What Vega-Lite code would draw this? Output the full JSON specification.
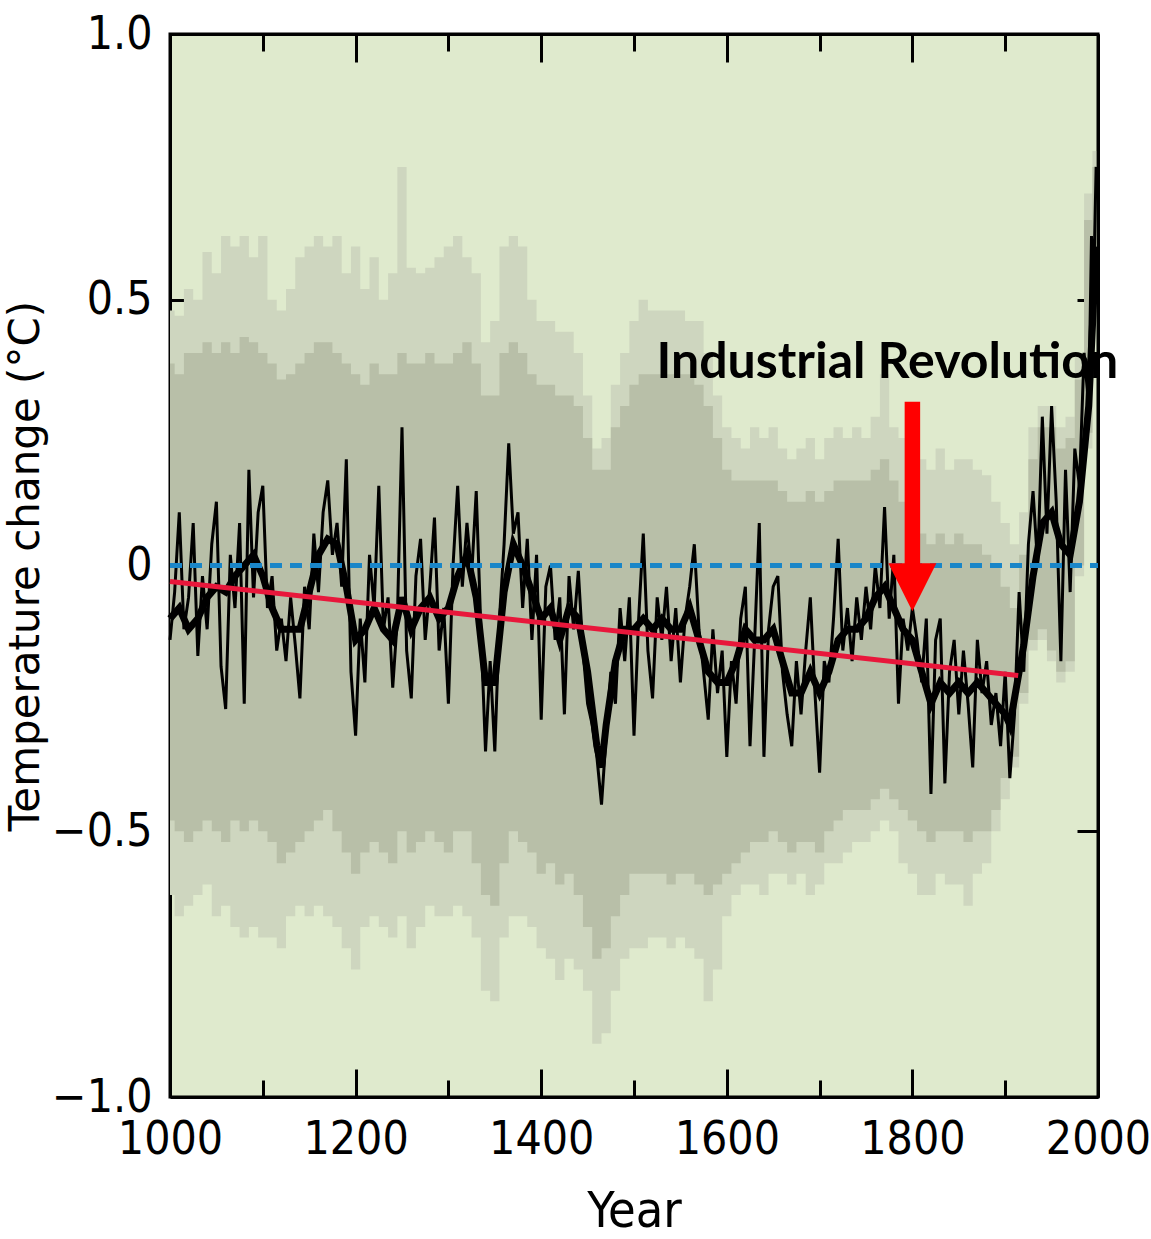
{
  "$schema": "https://vega.github.io/schema/vega-lite/v6.json",
  "width": 928,
  "height": 1063,
  "autosize": {"type": "none"},
  "padding": {"left": 170, "top": 34, "right": 53, "bottom": 142},
  "background": "white",
  "config": {
    "view": {"fill": "#dfeacd", "stroke": "black", "strokeWidth": 3},
    "axis": {"grid": false, "domainColor": "black", "domainWidth": 3, "tickColor": "black", "tickWidth": 3, "labelColor": "black", "titleColor": "black", "zindex": 1}
  },
  "datasets": {
    "band": [
      {"year":1000,"oh":0.48,"ih":0.38,"il":-0.48,"ol":-0.62},
      {"year":1010,"oh":0.47,"ih":0.36,"il":-0.50,"ol":-0.66},
      {"year":1020,"oh":0.52,"ih":0.40,"il":-0.52,"ol":-0.64},
      {"year":1030,"oh":0.50,"ih":0.40,"il":-0.50,"ol":-0.62},
      {"year":1040,"oh":0.59,"ih":0.42,"il":-0.48,"ol":-0.60},
      {"year":1050,"oh":0.55,"ih":0.40,"il":-0.50,"ol":-0.66},
      {"year":1060,"oh":0.62,"ih":0.42,"il":-0.52,"ol":-0.64},
      {"year":1070,"oh":0.60,"ih":0.40,"il":-0.48,"ol":-0.68},
      {"year":1080,"oh":0.62,"ih":0.43,"il":-0.50,"ol":-0.70},
      {"year":1090,"oh":0.58,"ih":0.42,"il":-0.48,"ol":-0.68},
      {"year":1100,"oh":0.62,"ih":0.40,"il":-0.50,"ol":-0.70},
      {"year":1110,"oh":0.50,"ih":0.38,"il":-0.52,"ol":-0.70},
      {"year":1120,"oh":0.48,"ih":0.35,"il":-0.56,"ol":-0.72},
      {"year":1130,"oh":0.52,"ih":0.36,"il":-0.54,"ol":-0.66},
      {"year":1140,"oh":0.58,"ih":0.38,"il":-0.52,"ol":-0.64},
      {"year":1150,"oh":0.60,"ih":0.40,"il":-0.50,"ol":-0.66},
      {"year":1160,"oh":0.62,"ih":0.42,"il":-0.48,"ol":-0.64},
      {"year":1170,"oh":0.60,"ih":0.42,"il":-0.46,"ol":-0.66},
      {"year":1180,"oh":0.62,"ih":0.40,"il":-0.50,"ol":-0.68},
      {"year":1190,"oh":0.55,"ih":0.38,"il":-0.54,"ol":-0.72},
      {"year":1200,"oh":0.60,"ih":0.36,"il":-0.58,"ol":-0.76},
      {"year":1210,"oh":0.52,"ih":0.34,"il":-0.54,"ol":-0.68},
      {"year":1220,"oh":0.58,"ih":0.38,"il":-0.52,"ol":-0.66},
      {"year":1230,"oh":0.50,"ih":0.36,"il":-0.54,"ol":-0.68},
      {"year":1240,"oh":0.55,"ih":0.36,"il":-0.56,"ol":-0.70},
      {"year":1250,"oh":0.75,"ih":0.40,"il":-0.50,"ol":-0.66},
      {"year":1260,"oh":0.56,"ih":0.38,"il":-0.54,"ol":-0.72},
      {"year":1270,"oh":0.55,"ih":0.38,"il":-0.52,"ol":-0.68},
      {"year":1280,"oh":0.56,"ih":0.40,"il":-0.50,"ol":-0.64},
      {"year":1290,"oh":0.58,"ih":0.38,"il":-0.52,"ol":-0.66},
      {"year":1300,"oh":0.60,"ih":0.38,"il":-0.54,"ol":-0.66},
      {"year":1310,"oh":0.62,"ih":0.40,"il":-0.50,"ol":-0.64},
      {"year":1320,"oh":0.58,"ih":0.42,"il":-0.50,"ol":-0.66},
      {"year":1330,"oh":0.55,"ih":0.38,"il":-0.56,"ol":-0.70},
      {"year":1340,"oh":0.42,"ih":0.32,"il":-0.62,"ol":-0.80},
      {"year":1350,"oh":0.46,"ih":0.32,"il":-0.64,"ol":-0.82},
      {"year":1360,"oh":0.60,"ih":0.40,"il":-0.56,"ol":-0.70},
      {"year":1370,"oh":0.62,"ih":0.42,"il":-0.50,"ol":-0.66},
      {"year":1380,"oh":0.60,"ih":0.40,"il":-0.52,"ol":-0.66},
      {"year":1390,"oh":0.50,"ih":0.36,"il":-0.54,"ol":-0.68},
      {"year":1400,"oh":0.46,"ih":0.34,"il":-0.58,"ol":-0.72},
      {"year":1410,"oh":0.46,"ih":0.34,"il":-0.56,"ol":-0.74},
      {"year":1420,"oh":0.44,"ih":0.32,"il":-0.60,"ol":-0.78},
      {"year":1430,"oh":0.44,"ih":0.32,"il":-0.58,"ol":-0.74},
      {"year":1440,"oh":0.40,"ih":0.30,"il":-0.62,"ol":-0.76},
      {"year":1450,"oh":0.32,"ih":0.24,"il":-0.68,"ol":-0.80},
      {"year":1460,"oh":0.22,"ih":0.18,"il":-0.74,"ol":-0.90},
      {"year":1470,"oh":0.24,"ih":0.18,"il":-0.72,"ol":-0.88},
      {"year":1480,"oh":0.34,"ih":0.26,"il":-0.66,"ol":-0.80},
      {"year":1490,"oh":0.40,"ih":0.30,"il":-0.62,"ol":-0.74},
      {"year":1500,"oh":0.46,"ih":0.34,"il":-0.58,"ol":-0.72},
      {"year":1510,"oh":0.50,"ih":0.36,"il":-0.58,"ol":-0.72},
      {"year":1520,"oh":0.48,"ih":0.36,"il":-0.58,"ol":-0.70},
      {"year":1530,"oh":0.48,"ih":0.36,"il":-0.58,"ol":-0.70},
      {"year":1540,"oh":0.48,"ih":0.36,"il":-0.60,"ol":-0.72},
      {"year":1550,"oh":0.48,"ih":0.36,"il":-0.58,"ol":-0.70},
      {"year":1560,"oh":0.46,"ih":0.36,"il":-0.58,"ol":-0.72},
      {"year":1570,"oh":0.46,"ih":0.34,"il":-0.60,"ol":-0.74},
      {"year":1580,"oh":0.40,"ih":0.30,"il":-0.62,"ol":-0.82},
      {"year":1590,"oh":0.32,"ih":0.24,"il":-0.60,"ol":-0.76},
      {"year":1600,"oh":0.26,"ih":0.18,"il":-0.58,"ol":-0.66},
      {"year":1610,"oh":0.24,"ih":0.16,"il":-0.56,"ol":-0.62},
      {"year":1620,"oh":0.22,"ih":0.16,"il":-0.54,"ol":-0.60},
      {"year":1630,"oh":0.26,"ih":0.16,"il":-0.52,"ol":-0.60},
      {"year":1640,"oh":0.24,"ih":0.16,"il":-0.52,"ol":-0.62},
      {"year":1650,"oh":0.26,"ih":0.16,"il":-0.50,"ol":-0.58},
      {"year":1660,"oh":0.22,"ih":0.14,"il":-0.52,"ol":-0.58},
      {"year":1670,"oh":0.20,"ih":0.12,"il":-0.54,"ol":-0.60},
      {"year":1680,"oh":0.22,"ih":0.12,"il":-0.52,"ol":-0.58},
      {"year":1690,"oh":0.24,"ih":0.14,"il":-0.52,"ol":-0.62},
      {"year":1700,"oh":0.20,"ih":0.12,"il":-0.54,"ol":-0.60},
      {"year":1710,"oh":0.24,"ih":0.14,"il":-0.50,"ol":-0.56},
      {"year":1720,"oh":0.26,"ih":0.16,"il":-0.48,"ol":-0.56},
      {"year":1730,"oh":0.24,"ih":0.16,"il":-0.46,"ol":-0.54},
      {"year":1740,"oh":0.26,"ih":0.16,"il":-0.46,"ol":-0.52},
      {"year":1750,"oh":0.24,"ih":0.16,"il":-0.46,"ol":-0.52},
      {"year":1760,"oh":0.28,"ih":0.18,"il":-0.44,"ol":-0.50},
      {"year":1770,"oh":0.36,"ih":0.20,"il":-0.42,"ol":-0.48},
      {"year":1780,"oh":0.26,"ih":0.16,"il":-0.44,"ol":-0.50},
      {"year":1790,"oh":0.24,"ih":0.12,"il":-0.46,"ol":-0.56},
      {"year":1800,"oh":0.22,"ih":0.10,"il":-0.48,"ol":-0.58},
      {"year":1810,"oh":0.20,"ih":0.06,"il":-0.50,"ol":-0.62},
      {"year":1820,"oh":0.18,"ih":0.04,"il":-0.52,"ol":-0.62},
      {"year":1830,"oh":0.22,"ih":0.06,"il":-0.50,"ol":-0.58},
      {"year":1840,"oh":0.18,"ih":0.04,"il":-0.50,"ol":-0.60},
      {"year":1850,"oh":0.20,"ih":0.06,"il":-0.50,"ol":-0.60},
      {"year":1860,"oh":0.20,"ih":0.04,"il":-0.52,"ol":-0.64},
      {"year":1870,"oh":0.18,"ih":0.04,"il":-0.50,"ol":-0.58},
      {"year":1880,"oh":0.17,"ih":0.02,"il":-0.50,"ol":-0.56},
      {"year":1890,"oh":0.12,"ih":0.00,"il":-0.46,"ol":-0.50},
      {"year":1900,"oh":0.08,"ih":-0.04,"il":-0.40,"ol":-0.44},
      {"year":1910,"oh":0.04,"ih":-0.08,"il":-0.36,"ol":-0.38},
      {"year":1920,"oh":0.10,"ih":0.02,"il":-0.24,"ol":-0.26},
      {"year":1930,"oh":0.26,"ih":0.20,"il":-0.14,"ol":-0.16},
      {"year":1940,"oh":0.30,"ih":0.26,"il":-0.12,"ol":-0.14},
      {"year":1950,"oh":0.30,"ih":0.26,"il":-0.16,"ol":-0.18},
      {"year":1960,"oh":0.26,"ih":0.22,"il":-0.20,"ol":-0.22},
      {"year":1970,"oh":0.28,"ih":0.24,"il":-0.18,"ol":-0.20},
      {"year":1980,"oh":0.40,"ih":0.35,"il":0.00,"ol":-0.02},
      {"year":1990,"oh":0.70,"ih":0.65,"il":0.25,"ol":0.22},
      {"year":1998,"oh":0.78,"ih":0.75,"il":0.50,"ol":0.48}
    ],
    "noisy": [
      {"year":1000,"t":-0.14},{"year":1005,"t":-0.05},{"year":1010,"t":0.10},{"year":1015,"t":-0.12},
      {"year":1020,"t":-0.06},{"year":1025,"t":0.08},{"year":1030,"t":-0.17},{"year":1035,"t":-0.02},
      {"year":1040,"t":-0.12},{"year":1045,"t":0.04},{"year":1050,"t":0.12},{"year":1055,"t":-0.19},
      {"year":1060,"t":-0.27},{"year":1065,"t":0.02},{"year":1070,"t":-0.08},{"year":1075,"t":0.08},
      {"year":1080,"t":-0.26},{"year":1085,"t":0.18},{"year":1090,"t":-0.06},{"year":1095,"t":0.10},
      {"year":1100,"t":0.15},{"year":1105,"t":-0.08},{"year":1110,"t":-0.02},{"year":1115,"t":-0.16},
      {"year":1120,"t":-0.10},{"year":1125,"t":-0.18},{"year":1130,"t":-0.06},{"year":1135,"t":-0.15},
      {"year":1140,"t":-0.25},{"year":1145,"t":-0.04},{"year":1150,"t":-0.12},{"year":1155,"t":0.06},
      {"year":1160,"t":-0.05},{"year":1165,"t":0.10},{"year":1170,"t":0.16},{"year":1175,"t":0.02},
      {"year":1180,"t":0.08},{"year":1185,"t":-0.04},{"year":1190,"t":0.20},{"year":1195,"t":-0.20},
      {"year":1200,"t":-0.32},{"year":1205,"t":-0.10},{"year":1210,"t":-0.22},{"year":1215,"t":0.02},
      {"year":1220,"t":-0.08},{"year":1225,"t":0.15},{"year":1230,"t":-0.12},{"year":1235,"t":-0.06},
      {"year":1240,"t":-0.23},{"year":1245,"t":-0.10},{"year":1250,"t":0.26},{"year":1255,"t":-0.16},
      {"year":1260,"t":-0.25},{"year":1265,"t":-0.02},{"year":1270,"t":0.05},{"year":1275,"t":-0.14},
      {"year":1280,"t":-0.04},{"year":1285,"t":0.09},{"year":1290,"t":-0.16},{"year":1295,"t":-0.08},
      {"year":1300,"t":-0.26},{"year":1305,"t":0.00},{"year":1310,"t":0.15},{"year":1315,"t":-0.04},
      {"year":1320,"t":0.08},{"year":1325,"t":-0.02},{"year":1330,"t":0.14},{"year":1335,"t":-0.12},
      {"year":1340,"t":-0.35},{"year":1345,"t":-0.18},{"year":1350,"t":-0.35},{"year":1355,"t":-0.10},
      {"year":1360,"t":0.04},{"year":1365,"t":0.23},{"year":1370,"t":0.06},{"year":1375,"t":0.10},
      {"year":1380,"t":-0.08},{"year":1385,"t":0.05},{"year":1390,"t":-0.14},{"year":1395,"t":0.02},
      {"year":1400,"t":-0.29},{"year":1405,"t":-0.04},{"year":1410,"t":0.00},{"year":1415,"t":-0.14},
      {"year":1420,"t":-0.06},{"year":1425,"t":-0.28},{"year":1430,"t":-0.02},{"year":1435,"t":-0.12},
      {"year":1440,"t":-0.01},{"year":1445,"t":-0.16},{"year":1450,"t":-0.26},{"year":1455,"t":-0.30},
      {"year":1460,"t":-0.36},{"year":1465,"t":-0.45},{"year":1470,"t":-0.32},{"year":1475,"t":-0.20},
      {"year":1480,"t":-0.26},{"year":1485,"t":-0.08},{"year":1490,"t":-0.18},{"year":1495,"t":-0.06},
      {"year":1500,"t":-0.32},{"year":1505,"t":-0.10},{"year":1510,"t":0.06},{"year":1515,"t":-0.16},
      {"year":1520,"t":-0.25},{"year":1525,"t":-0.06},{"year":1530,"t":-0.14},{"year":1535,"t":-0.04},
      {"year":1540,"t":-0.18},{"year":1545,"t":-0.08},{"year":1550,"t":-0.22},{"year":1555,"t":-0.10},
      {"year":1560,"t":-0.04},{"year":1565,"t":0.04},{"year":1570,"t":-0.12},{"year":1575,"t":-0.20},
      {"year":1580,"t":-0.29},{"year":1585,"t":-0.12},{"year":1590,"t":-0.24},{"year":1595,"t":-0.16},
      {"year":1600,"t":-0.36},{"year":1605,"t":-0.18},{"year":1610,"t":-0.26},{"year":1615,"t":-0.10},
      {"year":1620,"t":-0.04},{"year":1625,"t":-0.34},{"year":1630,"t":-0.14},{"year":1635,"t":0.08},
      {"year":1640,"t":-0.36},{"year":1645,"t":-0.12},{"year":1650,"t":-0.04},{"year":1655,"t":-0.02},
      {"year":1660,"t":-0.20},{"year":1665,"t":-0.28},{"year":1670,"t":-0.34},{"year":1675,"t":-0.18},
      {"year":1680,"t":-0.28},{"year":1685,"t":-0.16},{"year":1690,"t":-0.06},{"year":1695,"t":-0.24},
      {"year":1700,"t":-0.39},{"year":1705,"t":-0.18},{"year":1710,"t":-0.22},{"year":1715,"t":-0.10},
      {"year":1720,"t":0.05},{"year":1725,"t":-0.16},{"year":1730,"t":-0.08},{"year":1735,"t":-0.18},
      {"year":1740,"t":-0.06},{"year":1745,"t":-0.14},{"year":1750,"t":-0.04},{"year":1755,"t":-0.12},
      {"year":1760,"t":0.00},{"year":1765,"t":-0.08},{"year":1770,"t":0.11},{"year":1775,"t":-0.10},
      {"year":1780,"t":0.02},{"year":1785,"t":-0.26},{"year":1790,"t":-0.10},{"year":1795,"t":-0.16},
      {"year":1800,"t":-0.08},{"year":1805,"t":-0.14},{"year":1810,"t":-0.22},{"year":1815,"t":-0.10},
      {"year":1820,"t":-0.43},{"year":1825,"t":-0.14},{"year":1830,"t":-0.10},{"year":1835,"t":-0.41},
      {"year":1840,"t":-0.20},{"year":1845,"t":-0.14},{"year":1850,"t":-0.28},{"year":1855,"t":-0.16},
      {"year":1860,"t":-0.26},{"year":1865,"t":-0.38},{"year":1870,"t":-0.14},{"year":1875,"t":-0.24},
      {"year":1880,"t":-0.18},{"year":1885,"t":-0.30},{"year":1890,"t":-0.24},{"year":1895,"t":-0.34},
      {"year":1900,"t":-0.20},{"year":1905,"t":-0.40},{"year":1910,"t":-0.28},{"year":1915,"t":-0.05},
      {"year":1920,"t":-0.20},{"year":1925,"t":0.04},{"year":1930,"t":0.14},{"year":1935,"t":0.00},
      {"year":1940,"t":0.28},{"year":1945,"t":0.06},{"year":1950,"t":0.30},{"year":1955,"t":0.12},
      {"year":1960,"t":-0.18},{"year":1965,"t":0.18},{"year":1970,"t":-0.05},{"year":1975,"t":0.22},
      {"year":1980,"t":0.15},{"year":1985,"t":0.40},{"year":1990,"t":0.30},{"year":1993,"t":0.62},
      {"year":1995,"t":0.50},{"year":1998,"t":0.75}
    ],
    "smooth": [
      {"year":1000,"t":-0.10},{"year":1010,"t":-0.08},{"year":1020,"t":-0.12},{"year":1030,"t":-0.10},
      {"year":1040,"t":-0.06},{"year":1050,"t":-0.04},{"year":1060,"t":-0.05},{"year":1070,"t":-0.02},
      {"year":1080,"t":0.00},{"year":1090,"t":0.02},{"year":1100,"t":-0.02},{"year":1110,"t":-0.08},
      {"year":1120,"t":-0.12},{"year":1130,"t":-0.12},{"year":1140,"t":-0.12},{"year":1150,"t":-0.05},
      {"year":1160,"t":0.02},{"year":1170,"t":0.05},{"year":1180,"t":0.04},{"year":1190,"t":-0.04},
      {"year":1200,"t":-0.14},{"year":1210,"t":-0.12},{"year":1220,"t":-0.08},{"year":1230,"t":-0.12},
      {"year":1240,"t":-0.14},{"year":1250,"t":-0.06},{"year":1260,"t":-0.12},{"year":1270,"t":-0.08},
      {"year":1280,"t":-0.06},{"year":1290,"t":-0.10},{"year":1300,"t":-0.08},{"year":1310,"t":-0.02},
      {"year":1320,"t":0.02},{"year":1330,"t":-0.06},{"year":1340,"t":-0.22},{"year":1350,"t":-0.22},
      {"year":1360,"t":-0.05},{"year":1370,"t":0.04},{"year":1380,"t":0.00},{"year":1390,"t":-0.05},
      {"year":1400,"t":-0.10},{"year":1410,"t":-0.08},{"year":1420,"t":-0.14},{"year":1430,"t":-0.08},
      {"year":1440,"t":-0.10},{"year":1450,"t":-0.20},{"year":1460,"t":-0.34},{"year":1465,"t":-0.38},
      {"year":1470,"t":-0.30},{"year":1480,"t":-0.18},{"year":1490,"t":-0.12},{"year":1500,"t":-0.12},
      {"year":1510,"t":-0.10},{"year":1520,"t":-0.12},{"year":1530,"t":-0.10},{"year":1540,"t":-0.12},
      {"year":1550,"t":-0.12},{"year":1560,"t":-0.08},{"year":1570,"t":-0.14},{"year":1580,"t":-0.20},
      {"year":1590,"t":-0.22},{"year":1600,"t":-0.22},{"year":1610,"t":-0.18},{"year":1620,"t":-0.12},
      {"year":1630,"t":-0.14},{"year":1640,"t":-0.14},{"year":1650,"t":-0.12},{"year":1660,"t":-0.18},
      {"year":1670,"t":-0.24},{"year":1680,"t":-0.24},{"year":1690,"t":-0.20},{"year":1700,"t":-0.24},
      {"year":1710,"t":-0.20},{"year":1720,"t":-0.14},{"year":1730,"t":-0.12},{"year":1740,"t":-0.12},
      {"year":1750,"t":-0.10},{"year":1760,"t":-0.06},{"year":1770,"t":-0.04},{"year":1780,"t":-0.08},
      {"year":1790,"t":-0.12},{"year":1800,"t":-0.14},{"year":1810,"t":-0.20},{"year":1820,"t":-0.26},
      {"year":1830,"t":-0.22},{"year":1840,"t":-0.24},{"year":1850,"t":-0.22},{"year":1860,"t":-0.24},
      {"year":1870,"t":-0.22},{"year":1880,"t":-0.24},{"year":1890,"t":-0.26},{"year":1900,"t":-0.28},
      {"year":1905,"t":-0.30},{"year":1910,"t":-0.25},{"year":1920,"t":-0.15},{"year":1930,"t":-0.02},
      {"year":1940,"t":0.08},{"year":1950,"t":0.10},{"year":1960,"t":0.04},{"year":1970,"t":0.02},
      {"year":1980,"t":0.12},{"year":1990,"t":0.30},{"year":1998,"t":0.60}
    ],
    "trend": [{"year":1000,"t":-0.03},{"year":1914,"t":-0.207}],
    "zero": [{"year":1000,"t":0},{"year":2000,"t":0}],
    "arrow": [{"year":1800,"top":0.308,"base":0.0,"head":-0.041}],
    "note": [{"year":1773,"t":0.353,"text":"Industrial Revolution"}]
  },
  "layer": [
    {
      "data": {"name": "band"},
      "mark": {"type": "area", "interpolate": "step", "color": "#ced6bf"},
      "encoding": {
        "x": {"field": "year", "type": "quantitative", "scale": {"domain": [1000, 2000], "nice": false, "zero": false},
          "axis": {"orient": "bottom", "values": [1000,1200,1400,1600,1800,2000], "format": "d", "ticks": false, "domain": true,
            "labelFont": "DejaVu Sans Condensed, Liberation Sans, sans-serif", "labelFontSize": 46, "labelPadding": 20, "labelFlush": false, "labelOverlap": false,
            "title": "Year", "titleFont": "DejaVu Sans Condensed, Liberation Sans, sans-serif", "titleFontSize": 50, "titleFontWeight": "normal", "titlePadding": 24}},
        "y": {"field": "oh", "type": "quantitative", "scale": {"domain": [-1, 1], "nice": false, "zero": false},
          "axis": {"orient": "left", "values": [-1,-0.5,0,0.5,1], "ticks": false, "domain": true, "format": ".1f",
            "labelExpr": "datum.value === 0 ? '0' : datum.label",
            "labelFont": "DejaVu Sans Condensed, Liberation Sans, sans-serif", "labelFontSize": 46, "labelPadding": 18, "labelFlush": false, "labelOverlap": false,
            "title": "Temperature change (°C)", "titleFont": "DejaVu Sans, sans-serif", "titleFontSize": 42, "titleFontWeight": "normal", "titlePadding": 4}},
        "y2": {"field": "ol"}
      }
    },
    {
      "data": {"name": "band"},
      "mark": {"type": "area", "interpolate": "step", "color": "#b8bfa8"},
      "encoding": {
        "x": {"field": "year", "type": "quantitative",
          "axis": {"orient": "bottom", "values": [1000,1200,1400,1600,1800,2000], "tickSize": -28, "labels": false, "domain": false, "title": null}},
        "y": {"field": "ih", "type": "quantitative",
          "axis": {"orient": "left", "values": [-0.5, 0.5], "tickSize": -21, "labels": false, "domain": false, "title": null}},
        "y2": {"field": "il"}
      }
    },
    {
      "data": {"name": "noisy"},
      "mark": {"type": "line", "color": "black", "strokeWidth": 3},
      "encoding": {
        "x": {"field": "year", "type": "quantitative",
          "axis": {"orient": "bottom", "values": [1100,1300,1500,1700,1900], "tickSize": -17, "labels": false, "domain": false, "title": null}},
        "y": {"field": "t", "type": "quantitative",
          "axis": {"orient": "right", "values": [-0.5, 0.5], "tickSize": -21, "labels": false, "domain": true, "title": null}}
      }
    },
    {
      "data": {"name": "smooth"},
      "mark": {"type": "line", "color": "black", "strokeWidth": 7},
      "encoding": {
        "x": {"field": "year", "type": "quantitative",
          "axis": {"orient": "top", "values": [1000,1200,1400,1600,1800,2000], "tickSize": -28, "labels": false, "domain": true, "title": null}},
        "y": {"field": "t", "type": "quantitative", "axis": null}
      }
    },
    {
      "data": {"name": "zero"},
      "mark": {"type": "line", "color": "#1a86c8", "strokeWidth": 5, "strokeDash": [12, 8]},
      "encoding": {
        "x": {"field": "year", "type": "quantitative",
          "axis": {"orient": "top", "values": [1100,1300,1500,1700,1900], "tickSize": -17, "labels": false, "domain": false, "title": null}},
        "y": {"field": "t", "type": "quantitative", "axis": null}
      }
    },
    {
      "data": {"name": "trend"},
      "mark": {"type": "line", "color": "#e8173b", "strokeWidth": 5},
      "encoding": {
        "x": {"field": "year", "type": "quantitative", "axis": null},
        "y": {"field": "t", "type": "quantitative", "axis": null}
      }
    },
    {
      "data": {"name": "arrow"},
      "mark": {"type": "rule", "color": "#ff0000", "strokeWidth": 15.5, "strokeCap": "butt"},
      "encoding": {
        "x": {"field": "year", "type": "quantitative", "axis": null},
        "y": {"field": "top", "type": "quantitative", "axis": null},
        "y2": {"field": "base"}
      }
    },
    {
      "data": {"name": "arrow"},
      "mark": {"type": "point", "shape": "M-1,-1L1,-1L0,1Z", "size": 2304, "filled": true, "color": "#ff0000", "opacity": 1, "strokeWidth": 0},
      "encoding": {
        "x": {"field": "year", "type": "quantitative", "axis": null},
        "y": {"field": "head", "type": "quantitative", "axis": null}
      }
    },
    {
      "data": {"name": "note"},
      "mark": {"type": "text", "font": "Lato", "fontWeight": "bold", "fontSize": 50, "align": "center", "baseline": "alphabetic", "color": "black"},
      "encoding": {
        "x": {"field": "year", "type": "quantitative", "axis": null},
        "y": {"field": "t", "type": "quantitative", "axis": null},
        "text": {"field": "text"}
      }
    }
  ],
  "resolve": {"axis": {"x": "independent", "y": "independent"}}
}
